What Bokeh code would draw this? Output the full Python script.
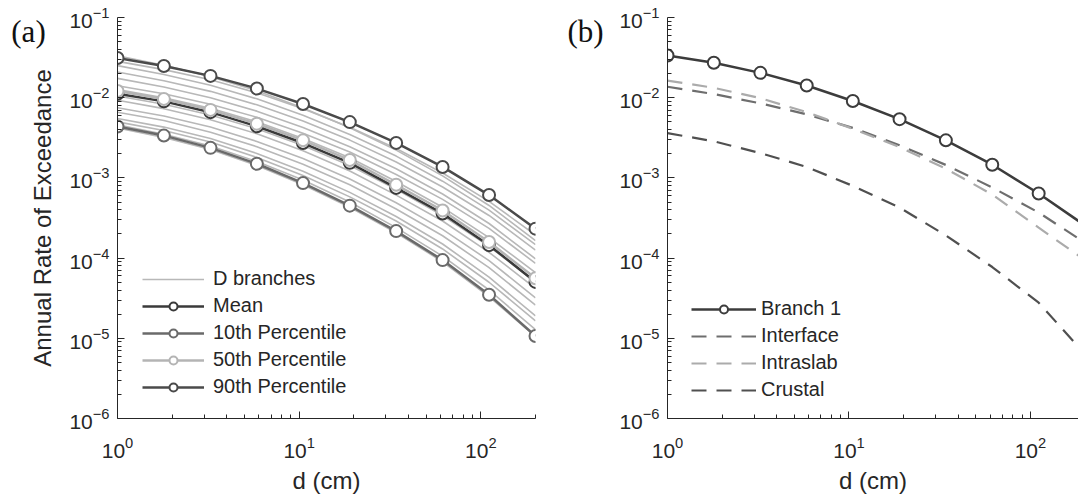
from bokeh.plotting import figure
from bokeh.models import FixedTicker, Legend, LegendItem, Label
from bokeh.layouts import row
from bokeh.embed import file_html
from bokeh.resources import INLINE

# ---------------- data ----------------
d_cm = [1.0, 1.8, 3.25, 5.85, 10.5, 19.0, 34.2, 61.6, 111.0, 200.0]

mean_rate = [0.0112, 0.0090, 0.0066, 0.0044, 0.00272, 0.00154, 0.00075, 0.00036, 0.000145, 0.0000505]
p10_rate = [0.00438, 0.00337, 0.00237, 0.00150, 0.000861, 0.000451, 0.000217, 0.0000944, 0.0000349, 0.0000107]
p50_rate = [0.0121, 0.00964, 0.00705, 0.00474, 0.00294, 0.00167, 0.00082, 0.000392, 0.000159, 0.0000561]
p90_rate = [0.0312, 0.0248, 0.0187, 0.0130, 0.00835, 0.00496, 0.00273, 0.00137, 0.000611, 0.000233]

branch_01 = [0.0334, 0.0254, 0.0183, 0.0122, 0.00745, 0.00422, 0.00222, 0.00106, 0.000453, 0.000165]
branch_02 = [0.0284, 0.0224, 0.0167, 0.0115, 0.00730, 0.00428, 0.00233, 0.00115, 0.000509, 0.000194]
branch_03 = [0.0251, 0.0195, 0.0143, 0.00968, 0.00604, 0.00348, 0.00187, 0.000910, 0.000396, 0.000147]
branch_04 = [0.0209, 0.0163, 0.0120, 0.00815, 0.00512, 0.00296, 0.00158, 0.00077, 0.00034, 0.000126]
branch_05 = [0.0174, 0.0136, 0.0100, 0.0068, 0.00425, 0.00245, 0.00130, 0.00063, 0.00027, 0.000098]
branch_06 = [0.0141, 0.0112, 0.0083, 0.0057, 0.0036, 0.0021, 0.00110, 0.00054, 0.000235, 0.000086]
branch_07 = [0.0126, 0.0100, 0.0074, 0.0050, 0.0031, 0.00178, 0.00090, 0.00043, 0.000180, 0.000066]
branch_08 = [0.0105, 0.0083, 0.0061, 0.0041, 0.00253, 0.00143, 0.00072, 0.00034, 0.000140, 0.000050]
branch_09 = [0.0093, 0.0073, 0.0053, 0.00355, 0.00218, 0.00122, 0.00061, 0.00029, 0.000118, 0.000042]
branch_10 = [0.0075, 0.0059, 0.0043, 0.00285, 0.00174, 0.00097, 0.00049, 0.000228, 0.000093, 0.000032]
branch_11 = [0.0066, 0.0052, 0.0037, 0.00245, 0.00148, 0.00082, 0.00041, 0.000190, 0.000076, 0.000026]
branch_12 = [0.0055, 0.0043, 0.0031, 0.00202, 0.00121, 0.00066, 0.00033, 0.000150, 0.000058, 0.000019]
branch_13 = [0.0050, 0.0039, 0.0028, 0.00180, 0.00107, 0.00058, 0.00029, 0.000130, 0.000050, 0.0000165]
branch_14 = [0.0046, 0.0035, 0.0025, 0.00160, 0.00094, 0.00050, 0.00024, 0.000106, 0.000040, 0.0000128]
branch_15 = [0.0042, 0.0032, 0.00226, 0.00143, 0.00082, 0.00043, 0.000207, 0.000090, 0.000033, 0.0000105]
d_branches = [branch_01, branch_02, branch_03, branch_04, branch_05, branch_06, branch_07, branch_08,
              branch_09, branch_10, branch_11, branch_12, branch_13, branch_14, branch_15]

branch1_rate = [0.0336, 0.0273, 0.0204, 0.0142, 0.0091, 0.0054, 0.00294, 0.00146, 0.000638, 0.000255]
interface_rate = [0.0137, 0.0111, 0.0085, 0.0062, 0.0042, 0.00255, 0.00145, 0.00076, 0.00037, 0.000155]
intraslab_rate = [0.0163, 0.0133, 0.00986, 0.0066, 0.0041, 0.00242, 0.00130, 0.00062, 0.00024, 0.000094]
crustal_rate = [0.00362, 0.00286, 0.00204, 0.00137, 0.000796, 0.000426, 0.000192, 0.0000774, 0.0000278, 0.00000634]

x_ticks = [1, 10, 100]
y_ticks = [1e-6, 1e-5, 1e-4, 1e-3, 1e-2, 1e-1]

FONT = "Liberation Sans"
AXC = "#262626"


def minor_log(lo_exp, hi_exp):
    out = []
    for e in range(lo_exp, hi_exp):
        for m in range(2, 10):
            out.append(m * 10.0 ** e)
    return out


def make_fig(x_end, width, left, right, ylabel):
    p = figure(x_axis_type="log", y_axis_type="log", x_range=(1, x_end), y_range=(1e-6, 1e-1),
               width=width, height=496, output_backend="svg", toolbar_location=None,
               min_border_left=left, min_border_right=right, min_border_top=17, min_border_bottom=74)
    p.grid.visible = False
    p.outline_line_color = None
    p.background_fill_color = "white"
    p.border_fill_color = "white"
    p.xaxis.ticker = FixedTicker(ticks=x_ticks, minor_ticks=minor_log(0, 3))
    p.yaxis.ticker = FixedTicker(ticks=y_ticks, minor_ticks=minor_log(-6, -1))
    for ax in list(p.xaxis) + list(p.yaxis):
        ax.major_tick_in = 7
        ax.major_tick_out = 0
        ax.minor_tick_in = 4
        ax.minor_tick_out = 0
        ax.axis_line_color = AXC
        ax.major_tick_line_color = AXC
        ax.minor_tick_line_color = AXC
        ax.major_label_text_font = FONT
        ax.major_label_text_font_size = "21px"
        ax.major_label_text_color = AXC
        ax.axis_label_text_font = FONT
        ax.axis_label_text_font_size = "24px"
        ax.axis_label_text_font_style = "normal"
        ax.axis_label_text_color = AXC
    p.xaxis.major_label_standoff = 18
    p.xaxis.axis_label_standoff = 6
    p.yaxis.major_label_standoff = 8
    p.yaxis.axis_label_standoff = 10
    p.xaxis.axis_label = "d (cm)"
    if ylabel:
        p.yaxis.axis_label = ylabel
    return p


def panel_tag(text, x):
    # placed in a side panel so that it is not clipped by the plot frame
    return Label(x=x, y=387, x_units="screen", y_units="screen", text=text,
                 text_font="Liberation Serif", text_font_size="31px",
                 text_align="center", text_baseline="middle", text_color="#111111")


# ---------------- panel (a) ----------------
pa = make_fig(200, 607, 117, 72, "Annual Rate of Exceedance")
branch_renderers = []
for br in d_branches:
    branch_renderers.append(pa.line(d_cm, br, line_color="#b8b8b8", line_width=1.6))

items = [LegendItem(label="D branches", renderers=[branch_renderers[0]])]
series_a = [("Mean", mean_rate, "#3a3a3a"), ("10th Percentile", p10_rate, "#6a6a6a"),
            ("50th Percentile", p50_rate, "#b4b4b4"), ("90th Percentile", p90_rate, "#4a4a4a")]
for name, vals, col in series_a:
    l = pa.line(d_cm, vals, line_color=col, line_width=2.5)
    s = pa.scatter(d_cm, vals, marker="circle", size=12, line_color=col, line_width=2, fill_color="white")
    items.append(LegendItem(label=name, renderers=[l, s]))

leg_a = Legend(items=items, location=(25, 20), glyph_width=62, glyph_height=20, label_standoff=9,
               spacing=4, padding=10, margin=0, border_line_color=None, background_fill_alpha=0,
               label_text_font=FONT, label_text_font_size="20px", label_text_color=AXC, label_height=20)
pa.add_layout(leg_a)
pa.add_layout(panel_tag("(a)", -507), "right")
pa.add_layout(panel_tag("(b)", 16), "right")

# ---------------- panel (b) ----------------
pb = make_fig(184, 471, 60, 0, None)
l1 = pb.line(d_cm, branch1_rate, line_color="#3c3c3c", line_width=2.5)
s1 = pb.scatter(d_cm, branch1_rate, marker="circle", size=12, line_color="#3c3c3c", line_width=2, fill_color="white")
li = pb.line(d_cm, interface_rate, line_color="#6e6e6e", line_width=2.2, line_dash="15 10")
ls = pb.line(d_cm, intraslab_rate, line_color="#ababab", line_width=2.2, line_dash="15 10")
lc = pb.line(d_cm, crustal_rate, line_color="#505050", line_width=2.2, line_dash="15 10")
leg_b = Legend(items=[LegendItem(label="Branch 1", renderers=[l1, s1]),
                      LegendItem(label="Interface", renderers=[li]),
                      LegendItem(label="Intraslab", renderers=[ls]),
                      LegendItem(label="Crustal", renderers=[lc])],
               location=(24, 17), glyph_width=65, glyph_height=20, label_standoff=5,
               spacing=4, padding=10, margin=0, border_line_color=None, background_fill_alpha=0,
               label_text_font=FONT, label_text_font_size="20px", label_text_color=AXC, label_height=20)
pb.add_layout(leg_b)

layout = row(pa, pb)
open("out.html", "w").write(file_html(layout, INLINE))
